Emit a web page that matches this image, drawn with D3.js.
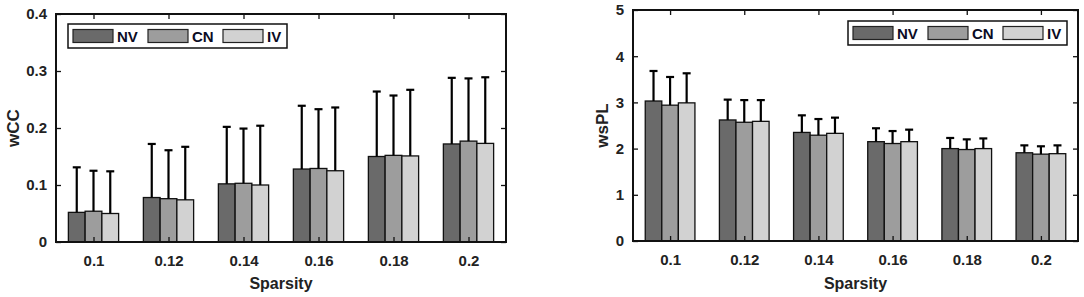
<!DOCTYPE html>
<html lang="en">
<head>
    <meta charset="UTF-8">
    <title>wCC and wsPL vs Sparsity</title>
    <script src="https://d3js.org/d3.v7.min.js"></script>
    <style>
        body { margin: 0; background: #fff; }
        text { font-family: "Liberation Sans", Arial, sans-serif; font-weight: bold; }
    </style>
</head>
<body>
    <svg id="chart" width="1084" height="297"></svg>

    <script>
        // Categories and series
        var categories = ["0.1", "0.12", "0.14", "0.16", "0.18", "0.2"];
        var seriesNames = ["NV", "CN", "IV"];
        var seriesColors = ["#6a6a6a", "#9d9d9d", "#d2d2d2"];

        // wCC means and standard deviations
        var wccNV = [0.052, 0.078, 0.102, 0.128, 0.150, 0.172];
        var wccCN = [0.054, 0.076, 0.103, 0.129, 0.152, 0.177];
        var wccIV = [0.050, 0.074, 0.100, 0.125, 0.151, 0.173];
        var wccErrNV = [0.079, 0.094, 0.100, 0.111, 0.114, 0.116];
        var wccErrCN = [0.071, 0.085, 0.096, 0.104, 0.105, 0.110];
        var wccErrIV = [0.074, 0.093, 0.104, 0.111, 0.116, 0.116];
        var wccTicks = [0, 0.1, 0.2, 0.3, 0.4];

        // wsPL means and standard deviations
        var wsplNV = [3.03, 2.62, 2.35, 2.15, 2.00, 1.91];
        var wsplCN = [2.94, 2.57, 2.29, 2.11, 1.98, 1.88];
        var wsplIV = [2.99, 2.59, 2.33, 2.15, 2.00, 1.89];
        var wsplErrNV = [0.65, 0.44, 0.37, 0.29, 0.23, 0.16];
        var wsplErrCN = [0.61, 0.48, 0.35, 0.27, 0.22, 0.17];
        var wsplErrIV = [0.64, 0.46, 0.34, 0.26, 0.22, 0.18];
        var wsplTicks = [0, 1, 2, 3, 4, 5];

        var svg = d3.select("#chart");

        function drawPanel(opt) {
            var g = svg.append("g");

            var x = d3.scaleBand()
                      .domain(categories)
                      .range([opt.left, opt.right])
                      .paddingInner(0.33)
                      .paddingOuter(0.165);

            var xs = d3.scaleBand()
                       .domain(seriesNames)
                       .range([0, x.bandwidth()]);

            var y = d3.scaleLinear()
                      .domain([0, opt.max])
                      .range([opt.bottom, opt.top]);

            // flatten into rows
            var rows = [];
            categories.forEach(function(c, i) {
                seriesNames.forEach(function(s, j) {
                    rows.push({ cat: c, s: s, j: j, v: opt.values[j][i], e: opt.errors[j][i] });
                });
            });

            // bars
            g.selectAll(".bar")
             .data(rows)
             .enter().append("rect")
             .attr("x", d => x(d.cat) + xs(d.s))
             .attr("y", d => y(d.v))
             .attr("width", xs.bandwidth())
             .attr("height", d => y(0) - y(d.v))
             .attr("fill", d => seriesColors[d.j])
             .attr("stroke", "#111")
             .attr("stroke-width", 1.3);

            // error bars (upper only)
            var eb = g.selectAll(".err")
                      .data(rows)
                      .enter().append("g")
                      .attr("transform", d => "translate(" + (x(d.cat) + xs(d.s) + xs.bandwidth() / 2) + ",0)");
            eb.append("line")
              .attr("y1", d => y(d.v))
              .attr("y2", d => y(d.v + d.e))
              .attr("stroke", "#000")
              .attr("stroke-width", 2.2);
            eb.append("line")
              .attr("x1", -4).attr("x2", 4)
              .attr("y1", d => y(d.v + d.e))
              .attr("y2", d => y(d.v + d.e))
              .attr("stroke", "#000")
              .attr("stroke-width", 2.2);

            // axes (MATLAB box style, ticks inward)
            g.append("g")
             .attr("transform", "translate(" + opt.left + ",0)")
             .call(d3.axisLeft(y).tickValues(opt.ticks).tickSize(-5).tickPadding(9).tickFormat(d3.format("~g")))
             .call(a => a.select(".domain").remove())
             .call(a => a.selectAll("line").attr("stroke", "#111").attr("stroke-width", 1.3))
             .call(a => a.selectAll("text").attr("font-size", 15).attr("fill", "#222")
                         .attr("font-family", "Liberation Sans, Arial, sans-serif").attr("font-weight", "bold"));

            g.append("g")
             .attr("transform", "translate(" + opt.right + ",0)")
             .call(d3.axisRight(y).tickValues(opt.ticks).tickSize(-5).tickFormat(""))
             .call(a => a.select(".domain").remove())
             .call(a => a.selectAll("line").attr("stroke", "#111").attr("stroke-width", 1.3));

            var xc = d3.scalePoint().domain(categories)
                       .range([x(categories[0]) + x.bandwidth() / 2, x(categories[5]) + x.bandwidth() / 2]);

            g.append("g")
             .attr("transform", "translate(0," + opt.bottom + ")")
             .call(d3.axisBottom(xc).tickSize(-5).tickPadding(13))
             .call(a => a.select(".domain").remove())
             .call(a => a.selectAll("line").attr("stroke", "#111").attr("stroke-width", 1.3))
             .call(a => a.selectAll("text").attr("font-size", 15).attr("fill", "#222")
                         .attr("font-family", "Liberation Sans, Arial, sans-serif").attr("font-weight", "bold"));

            g.append("g")
             .attr("transform", "translate(0," + opt.top + ")")
             .call(d3.axisTop(xc).tickSize(-5).tickFormat(""))
             .call(a => a.select(".domain").remove())
             .call(a => a.selectAll("line").attr("stroke", "#111").attr("stroke-width", 1.3));

            // box
            g.append("rect")
             .attr("x", opt.left).attr("y", opt.top)
             .attr("width", opt.right - opt.left)
             .attr("height", opt.bottom - opt.top)
             .attr("fill", "none")
             .attr("stroke", "#111")
             .attr("stroke-width", 2);

            // axis labels
            g.append("text")
             .attr("x", (opt.left + opt.right) / 2)
             .attr("y", 289)
             .attr("text-anchor", "middle")
             .attr("font-size", 16)
             .attr("fill", "#222")
             .text("Sparsity");

            g.append("text")
             .attr("transform", "translate(" + opt.ylabelX + "," + (opt.top + opt.bottom) / 2 + ") rotate(-90)")
             .attr("text-anchor", "middle")
             .attr("font-size", 17)
             .attr("fill", "#222")
             .text(opt.ylabel);

            // legend
            var lg = g.append("g")
                      .attr("transform", "translate(" + opt.legendX + "," + opt.legendY + ")");
            lg.append("rect")
              .attr("width", 219).attr("height", 24)
              .attr("fill", "#fff")
              .attr("stroke", "#111")
              .attr("stroke-width", 1.5);
            var item = lg.selectAll(".item")
                         .data(seriesNames)
                         .enter().append("g")
                         .attr("transform", (d, i) => "translate(" + (5 + i * 75) + ",0)");
            item.append("rect")
                .attr("y", 5.5).attr("width", 40).attr("height", 13)
                .attr("fill", (d, i) => seriesColors[i])
                .attr("stroke", "#222")
                .attr("stroke-width", 1.2);
            item.append("text")
                .attr("x", 44).attr("y", 18)
                .attr("font-size", 15)
                .attr("fill", "#0b0b24")
                .text(d => d);
        }

        drawPanel({
            left: 56, right: 506, top: 14, bottom: 242,
            max: 0.4, ticks: wccTicks,
            values: [wccNV, wccCN, wccIV],
            errors: [wccErrNV, wccErrCN, wccErrIV],
            ylabel: "wCC", ylabelX: 19,
            legendX: 68, legendY: 24
        });

        drawPanel({
            left: 633, right: 1078, top: 10, bottom: 241,
            max: 5, ticks: wsplTicks,
            values: [wsplNV, wsplCN, wsplIV],
            errors: [wsplErrNV, wsplErrCN, wsplErrIV],
            ylabel: "wsPL", ylabelX: 608,
            legendX: 848, legendY: 21
        });
    </script>
</body>
</html>
